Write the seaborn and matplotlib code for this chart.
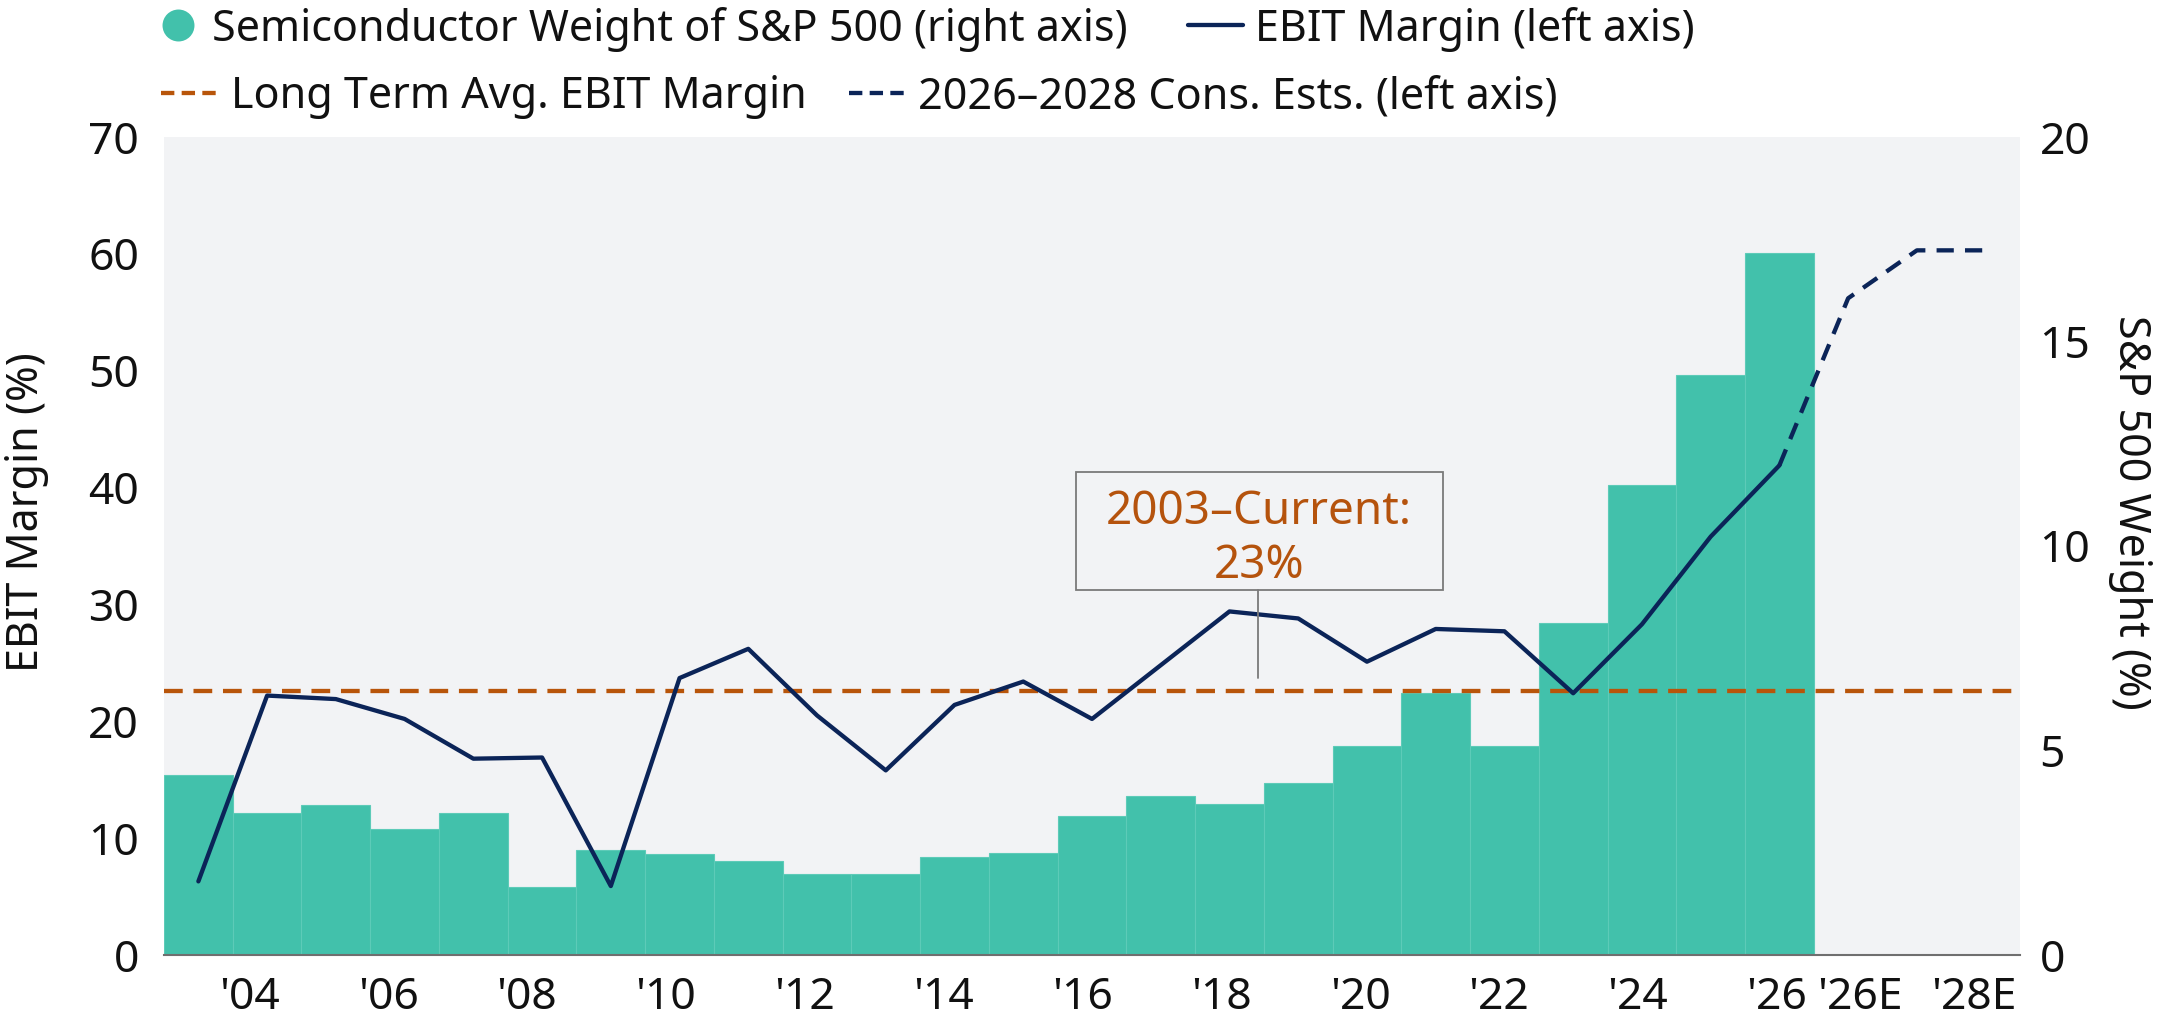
import numpy as np
import pandas as pd
import matplotlib.pyplot as plt
import seaborn as sns
from matplotlib.lines import Line2D
from matplotlib.patches import Rectangle

# ================================
# Data
# ================================
years = list(range(2003, 2027))
semi_weight = [4.40, 3.47, 3.67, 3.07, 3.47, 1.67, 2.57, 2.47, 2.29, 1.99,
               1.99, 2.39, 2.49, 3.39, 3.89, 3.70, 4.20, 5.11, 6.40, 5.11,
               8.12, 11.49, 14.19, 17.17]
ebit_margin = [6.3, 22.2, 21.9, 20.2, 16.8, 16.9, 5.9, 23.7, 26.2, 20.5,
               15.8, 21.4, 23.4, 20.2, 24.8, 29.4, 28.8, 25.1, 27.9, 27.7,
               22.4, 28.3, 35.8, 41.9]
est_periods = ["2026", "2026E", "2027E", "2028E"]
est_margin = [41.9, 56.2, 60.3, 60.3]
long_term_avg = 22.6

year_ticks = [f"'{y % 100:02d}" for y in years if y % 2 == 0]
est_ticks = ["'26E", "'28E"]

hist = pd.DataFrame({"slot": np.arange(len(years)), "year": years,
                     "weight": semi_weight, "ebit": ebit_margin})
est = pd.DataFrame({"slot": len(years) - 1 + np.arange(len(est_periods)),
                    "period": est_periods, "ebit": est_margin})

# ================================
# Style
# ================================
sns.set_theme(style="white")
plt.rcParams["font.family"] = ["Noto Sans", "DejaVu Sans"]

teal = "#42C1AB"
navy = "#0B2458"
orange = "#B8550A"
panel = "#F2F3F5"
grey = "#7A7A7A"
ink = "#111111"

W, H = 2157, 1021
fig = plt.figure(figsize=(W / 100, H / 100), dpi=100)
ax = fig.add_axes([164 / W, 1 - 955 / H, 1856 / W, 818 / H])
ax2 = ax.twinx()

# bars (right axis) behind the margin lines (left axis)
ax2.set_zorder(1)
ax.set_zorder(2)
ax.patch.set_visible(False)
ax2.patch.set_visible(True)
ax2.patch.set_facecolor(panel)

# ================================
# Marks
# ================================
sns.barplot(data=hist, x="slot", y="weight", native_scale=True, orient="x",
            width=1.0, color=teal, saturation=1, edgecolor="#5DCBB8",
            linewidth=0.8, errorbar=None, ax=ax2)

sns.lineplot(data=hist, x="slot", y="ebit", color=navy, linewidth=3.1, ax=ax)
sns.lineplot(data=est, x="slot", y="ebit", color=navy, linewidth=3.1, ax=ax)
ax.lines[-1].set_dashes((4.0, 2.6))

ax.axhline(long_term_avg, color=orange, linewidth=3.1, dashes=(4.35, 2.5), zorder=1.5)

# ================================
# Axes
# ================================
ax.set_xlim(-0.5, 26.5)
ax.set_ylim(0, 70)
ax2.set_ylim(0, 20)
ax.set_yticks(range(0, 71, 10))
ax2.set_yticks(range(0, 21, 5))
xt = list(np.linspace(0.74, 22.96, len(year_ticks))) + [24.17, 25.83]
ax.set_xticks(xt, year_ticks + est_ticks)

ax.tick_params(axis="x", length=0, pad=15, labelsize=32, colors=ink)
ax.tick_params(axis="y", length=0, pad=18, labelsize=32, colors=ink)
ax2.tick_params(axis="y", length=0, pad=14, labelsize=32, colors=ink)

ax.set_xlabel("")
ax.set_ylabel("")
ax2.set_ylabel("")

for s in ["top", "left", "right"]:
    ax.spines[s].set_visible(False)
ax.spines["bottom"].set_color("#6F6F6F")
ax.spines["bottom"].set_linewidth(1.5)
for s in ax2.spines.values():
    s.set_visible(False)

fig.text(27 / W, 1 - 512 / H, "EBIT Margin (%)", rotation=90,
         ha="center", va="center", fontsize=31, color=ink)
fig.text(2130 / W, 1 - 512 / H, "S&P 500 Weight (%)", rotation=270,
         ha="center", va="center", fontsize=31, color=ink)

# ================================
# Annotation box
# ================================
ax.add_patch(Rectangle((12.77, 31.23), 5.34, 10.1, facecolor=panel,
                       edgecolor=grey, linewidth=1.3, zorder=3))
ax.plot([15.42, 15.42], [23.7, 31.23], color=grey, linewidth=1.3, zorder=3)
ax.text(15.43, 36.88, "2003–Current:", ha="center", va="baseline",
        fontsize=33, color="#B5530D", zorder=4)
ax.text(15.43, 32.26, f"{round(long_term_avg)}%", ha="center", va="baseline",
        fontsize=33, color="#B5530D", zorder=4)

# ================================
# Legend (two rows, items placed one by one)
# ================================
legend_items = [
    (Line2D([], [], marker="o", markersize=23, markeredgewidth=0, linestyle="none", color=teal),
     "Semiconductor Weight of S&P 500 (right axis)", 162, 29, 0.75, 0.42),
    (Line2D([], [], color=navy, linewidth=3.1),
     "EBIT Margin (left axis)", 1188, 29, 1.28, 0.28),
    (Line2D([], [], color=orange, linewidth=3.1, dashes=(3.1, 1.7)),
     "Long Term Avg. EBIT Margin", 161, 97, 1.3, 0.32),
    (Line2D([], [], color=navy, linewidth=3.1, dashes=(3.1, 1.7)),
     "2026–2028 Cons. Ests. (left axis)", 849, 97, 1.3, 0.3),
]
for handle, label, x, y, hl, pad in legend_items:
    fig.legend([handle], [label], loc="center left", bbox_to_anchor=(x / W, 1 - y / H),
               frameon=False, fontsize=31, handlelength=hl, handletextpad=pad,
               borderpad=0, borderaxespad=0, labelcolor=ink)

fig.savefig("out.png", dpi=100)
